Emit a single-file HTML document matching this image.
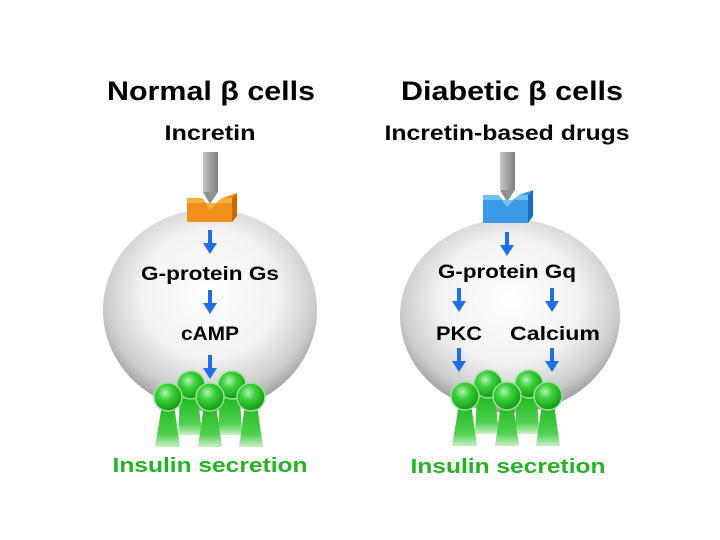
<!DOCTYPE html>
<html><head><meta charset="utf-8"><style>
html,body{margin:0;padding:0;background:#fff;width:720px;height:540px;overflow:hidden}
text{font-family:"Liberation Sans",sans-serif;font-weight:bold}
</style></head><body>
<svg width="720" height="540" viewBox="0 0 720 540" xmlns="http://www.w3.org/2000/svg">
<defs>
<radialGradient id="cell" cx="50%" cy="42%" r="58%">
<stop offset="0" stop-color="#ffffff"/><stop offset="0.55" stop-color="#f2f2f2"/><stop offset="0.85" stop-color="#cccccc"/><stop offset="1" stop-color="#9a9a9a"/>
</radialGradient>
<radialGradient id="ball" cx="40%" cy="35%" r="65%">
<stop offset="0" stop-color="#b8f0b8"/><stop offset="0.4" stop-color="#3cd23c"/><stop offset="1" stop-color="#139a13"/>
</radialGradient>
<linearGradient id="stem" x1="0" y1="0" x2="0" y2="1">
<stop offset="0" stop-color="#20b820"/><stop offset="0.7" stop-color="#50d050"/><stop offset="1" stop-color="#c8f0c8"/>
</linearGradient>
<linearGradient id="rod" x1="0" x2="1">
<stop offset="0" stop-color="#c8c8c8"/><stop offset="0.5" stop-color="#a0a0a0"/><stop offset="1" stop-color="#808080"/>
</linearGradient>
<g id="arr"><rect x="-2" y="0" width="4" height="15" fill="#1f6ee8"/><polygon points="-7,13 7,13 0,24" fill="#1f6ee8"/></g>
<g id="balls">
<path d="M-30,12 L-26,12 L-12,12 L-8,50 L-32,50Z" fill="url(#stem)"/>
<path d="M10,12 L14,12 L30,12 L32,50 L8,50Z" fill="url(#stem)"/>
<path d="M-48,20 L-36,20 L-30,62 L-55,62Z" fill="url(#stem)"/>
<path d="M-6,20 L6,20 L12,62 L-12,62Z" fill="url(#stem)"/>
<path d="M35,20 L47,20 L53,62 L29,62Z" fill="url(#stem)"/>
<circle cx="-19" cy="0" r="14" fill="url(#ball)" stroke="#9ee09e" stroke-width="1.5"/>
<circle cx="22" cy="0" r="14" fill="url(#ball)" stroke="#9ee09e" stroke-width="1.5"/>
<circle cx="-42" cy="12" r="14" fill="url(#ball)" stroke="#9ee09e" stroke-width="1.5"/>
<circle cx="0" cy="12" r="14" fill="url(#ball)" stroke="#9ee09e" stroke-width="1.5"/>
<circle cx="41" cy="12" r="14" fill="url(#ball)" stroke="#9ee09e" stroke-width="1.5"/>
</g>
</defs>

<text x="211" y="100" font-size="27" text-anchor="middle" textLength="208" lengthAdjust="spacingAndGlyphs">Normal β cells</text>
<text x="512" y="100" font-size="27" text-anchor="middle" textLength="222" lengthAdjust="spacingAndGlyphs">Diabetic β cells</text>
<text x="210" y="140" font-size="21" text-anchor="middle" textLength="91" lengthAdjust="spacingAndGlyphs">Incretin</text>
<text x="507" y="140" font-size="21" text-anchor="middle" textLength="245" lengthAdjust="spacingAndGlyphs">Incretin-based drugs</text>

<!-- left cell -->
<ellipse cx="210" cy="310" rx="107" ry="101" fill="url(#cell)"/>
<rect x="203" y="152" width="15" height="40" fill="url(#rod)"/>
<polygon points="203,192 218,192 210,204" fill="#909090"/>
<polygon points="187,198 202,198 210,208 222,198 237,193 237,216 232,222 187,222" fill="#f0901a"/>
<polygon points="232,198 237,193 237,216 232,222" fill="#c86a00"/>
<polygon points="187,198 202,198 210,210 222,198 232,198 232,203 187,203" fill="#f8b040"/>
<use href="#arr" x="210" y="230"/>
<text x="210" y="280" font-size="19" text-anchor="middle" textLength="138" lengthAdjust="spacingAndGlyphs">G-protein Gs</text>
<use href="#arr" x="210" y="290"/>
<text x="210" y="340" font-size="19" text-anchor="middle" textLength="58" lengthAdjust="spacingAndGlyphs">cAMP</text>
<use href="#arr" x="210" y="355"/>
<use href="#balls" x="210" y="385"/>
<text x="210" y="472" font-size="20" fill="#22b422" text-anchor="middle" textLength="195" lengthAdjust="spacingAndGlyphs">Insulin secretion</text>

<!-- right cell -->
<ellipse cx="510" cy="316" rx="110" ry="97" fill="url(#cell)"/>
<rect x="500" y="152" width="15" height="38" fill="url(#rod)"/>
<polygon points="500,190 515,190 507,202" fill="#909090"/>
<polygon points="483,195 498,195 507,205 519,195 533,190 533,216 528,223 483,223" fill="#3a9ae8"/>
<polygon points="528,195 533,190 533,216 528,223" fill="#1a6ec0"/>
<polygon points="483,195 498,195 507,207 519,195 528,195 528,200 483,200" fill="#70c0f8"/>
<use href="#arr" x="507" y="232"/>
<text x="507" y="278" font-size="19" text-anchor="middle" textLength="138" lengthAdjust="spacingAndGlyphs">G-protein Gq</text>
<use href="#arr" x="459" y="288"/>
<use href="#arr" x="552" y="288"/>
<text x="459" y="340" font-size="19" text-anchor="middle" textLength="46" lengthAdjust="spacingAndGlyphs">PKC</text>
<text x="555" y="340" font-size="19" text-anchor="middle" textLength="90" lengthAdjust="spacingAndGlyphs">Calcium</text>
<use href="#arr" x="459" y="348"/>
<use href="#arr" x="552" y="348"/>
<use href="#balls" x="507" y="384"/>
<text x="508" y="473" font-size="20" fill="#22b422" text-anchor="middle" textLength="195" lengthAdjust="spacingAndGlyphs">Insulin secretion</text>
</svg>
</body></html>
